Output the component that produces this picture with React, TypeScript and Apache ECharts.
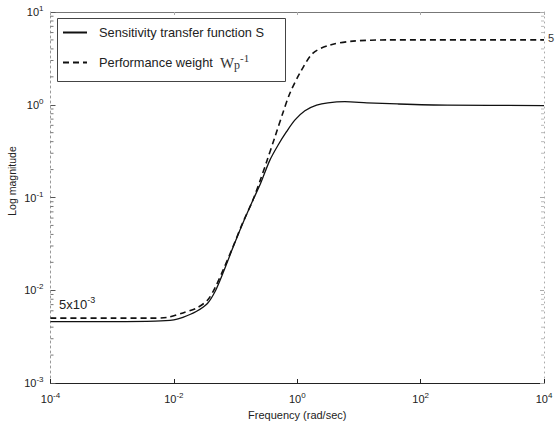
import React, { useEffect, useRef } from "react";
import * as echarts from "echarts";

// Frequency (rad/sec) and magnitude
const sFreq = [1e-4, 1e-3, 5e-3, 0.01, 0.014, 0.023, 0.035, 0.047, 0.063, 0.091, 0.13, 0.19, 0.25, 0.36, 0.49, 0.67, 0.92, 1.33, 2.06, 3.14, 5.9, 13.5, 42, 270, 1e4];
const sMag = [4.6e-3, 4.6e-3, 4.65e-3, 4.8e-3, 5.1e-3, 5.9e-3, 7.2e-3, 0.0098, 0.0155, 0.029, 0.052, 0.093, 0.138, 0.253, 0.368, 0.512, 0.686, 0.863, 0.99, 1.05, 1.08, 1.05, 1.02, 0.99, 0.98];

const wFreq = [1e-4, 1e-3, 4e-3, 0.0078, 0.014, 0.023, 0.035, 0.047, 0.063, 0.091, 0.13, 0.19, 0.25, 0.32, 0.435, 0.59, 0.76, 1.1, 1.8, 3.4, 8, 30, 1e4];
const wMag = [5.0e-3, 5.0e-3, 5.0e-3, 5.1e-3, 5.7e-3, 6.4e-3, 7.8e-3, 0.0108, 0.0166, 0.0295, 0.053, 0.093, 0.152, 0.245, 0.45, 0.83, 1.33, 2.19, 3.6, 4.4, 4.85, 5.0, 5.0];

const xTickExps = [-4, -2, 0, 2, 4];
const yTickExps = [-3, -2, -1, 0, 1];
const yMinorMantissas = [2, 3, 4, 5, 6, 7, 8, 9];

const seriesNames = ["Sensitivity transfer function S", "Performance weight"];

const FONT = "Liberation Sans, Arial, sans-serif";
const SERIF = "Liberation Serif, serif";

export default function App() {
  const ref = useRef<HTMLDivElement>(null);
  useEffect(() => {
    const chart = echarts.init(ref.current!, null, { renderer: "svg" });
    const xMin = Math.pow(10, xTickExps[0]);
    const xMax = Math.pow(10, xTickExps[xTickExps.length - 1]);
    const yMin = Math.pow(10, yTickExps[0]);
    const yMax = Math.pow(10, yTickExps[yTickExps.length - 1]);

    const minorData: number[][] = [];
    for (let e = yTickExps[0]; e < yTickExps[yTickExps.length - 1]; e++) {
      for (const m of yMinorMantissas) minorData.push([xMin, m * Math.pow(10, e)]);
    }

    const fmt = (v: number) => `10{sup|${Math.round(Math.log10(v))}}`;
    const rich = { sup: { fontSize: 8, fontFamily: FONT, color: "#222", padding: [0, 0, 7, 0] } };

    chart.setOption({
      animation: false,
      backgroundColor: "#fff",
      grid: { left: 50.5, right: 15, top: 12, bottom: 42 },
      legend: {
        data: [seriesNames[0], seriesNames[1]],
        orient: "vertical",
        left: 57,
        top: 18,
        itemWidth: 24,
        itemHeight: 12,
        itemGap: 13,
        padding: [8, 5, 5, 5],
        itemStyle: { opacity: 0 },
        textStyle: {
          fontFamily: FONT,
          fontSize: 12.8,
          color: "#222",
          padding: [0, 0, 0, 7],
          rich: {
            t: { fontFamily: FONT, fontSize: 12.8, color: "#222" },
            w: { fontFamily: SERIF, fontSize: 15, color: "#333" },
            sub: { fontFamily: SERIF, fontSize: 12, color: "#333", padding: [5, 0, 0, 0] },
            sup: { fontFamily: SERIF, fontSize: 11, color: "#333", padding: [0, 0, 10, 0] },
          },
        },
        formatter: (name: string) =>
          name === seriesNames[1] ? `{t|${name}}  {w|W}{sub|p}{sup|-1}` : name,
      },
      xAxis: [
        {
          type: "log",
          logBase: 10,
          min: xMin,
          max: xMax,
          interval: 2,
          axisLine: { lineStyle: { color: "#222", width: 1 } },
          axisTick: { inside: true, length: 4, lineStyle: { color: "#222" } },
          axisLabel: { formatter: fmt, rich, fontFamily: FONT, fontSize: 11, color: "#222", margin: 8 },
          splitLine: { show: false },
          name: "Frequency (rad/sec)",
          nameLocation: "middle",
          nameGap: 26,
          nameTextStyle: { fontFamily: FONT, fontSize: 11, color: "#222" },
        },
        {
          type: "log",
          logBase: 10,
          min: xMin,
          max: xMax,
          interval: 2,
          position: "top",
          axisLine: { lineStyle: { color: "#777", width: 1 } },
          axisTick: { inside: true, length: 3, lineStyle: { color: "#aaa" } },
          axisLabel: { show: false },
          splitLine: { show: false },
        },
      ],
      yAxis: [
        {
          type: "log",
          logBase: 10,
          min: yMin,
          max: yMax,
          interval: 1,
          axisLine: { lineStyle: { color: "#999", width: 1, type: [2, 3] } },
          axisTick: { inside: true, length: 5, lineStyle: { color: "#555" } },
          axisLabel: { formatter: fmt, rich, fontFamily: FONT, fontSize: 11, color: "#222", margin: 7 },
          splitLine: { show: false },
        },
        {
          type: "log",
          logBase: 10,
          min: yMin,
          max: yMax,
          interval: 1,
          position: "right",
          axisLine: { lineStyle: { color: "#aaa", width: 1, type: [1, 4] } },
          axisTick: { inside: true, length: 4, lineStyle: { color: "#aaa" } },
          axisLabel: { show: false },
          splitLine: { show: false },
        },
      ],
      graphic: [
        {
          type: "rect",
          z: 3,
          shape: { x: 57.5, y: 18.5, width: 228, height: 63 },
          style: { fill: "#fff", stroke: "#444", lineWidth: 1 },
        },
        {
          type: "text",
          x: 12,
          y: 181,
          rotation: Math.PI / 2,
          style: { text: "Log magnitude", fontFamily: FONT, fontSize: 10.5, fill: "#222", align: "center", verticalAlign: "middle" },
        },
        {
          type: "text",
          x: 59,
          y: 304,
          style: {
            text: "5x10{sup|-3}",
            fontFamily: FONT,
            fontSize: 13,
            fill: "#222",
            verticalAlign: "middle",
            rich: { sup: { fontSize: 9, fontFamily: FONT, fill: "#222", padding: [0, 0, 9, 0] } },
          },
        },
        {
          type: "text",
          x: 548,
          y: 38,
          style: { text: "5", fontFamily: FONT, fontSize: 11, fill: "#333", verticalAlign: "middle" },
        },
      ],
      series: [
        {
          name: seriesNames[0],
          type: "line",
          data: sFreq.map((f, i) => [f, sMag[i]]),
          showSymbol: false,
          symbol: "none",
          smooth: 0.3,
          lineStyle: { color: "#111", width: 1.3, type: "solid" },
          itemStyle: { color: "#111" },
        },
        {
          name: seriesNames[1],
          type: "line",
          data: wFreq.map((f, i) => [f, wMag[i]]),
          showSymbol: false,
          symbol: "none",
          smooth: 0.3,
          lineStyle: { color: "#111", width: 1.6, type: [6, 4] },
          itemStyle: { color: "#111" },
        },
        {
          name: "minorTicks",
          type: "custom",
          silent: true,
          data: minorData,
          encode: { x: 0, y: 1 },
          renderItem: (params: any, api: any) => {
            const v = api.value(1);
            const l = api.coord([xMin, v]);
            const r = api.coord([xMax, v]);
            return {
              type: "group",
              children: [
                { type: "line", shape: { x1: l[0], y1: l[1], x2: l[0] + 3, y2: l[1] }, style: { stroke: "#777", lineWidth: 1 } },
                { type: "line", shape: { x1: r[0] - 3, y1: r[1], x2: r[0], y2: r[1] }, style: { stroke: "#bbb", lineWidth: 1 } },
              ],
            };
          },
        },
      ],
    });
    return () => chart.dispose();
  }, []);
  return <div ref={ref} style={{ position: "fixed", left: 0, top: 0, width: 559, height: 425 }} />;
}
